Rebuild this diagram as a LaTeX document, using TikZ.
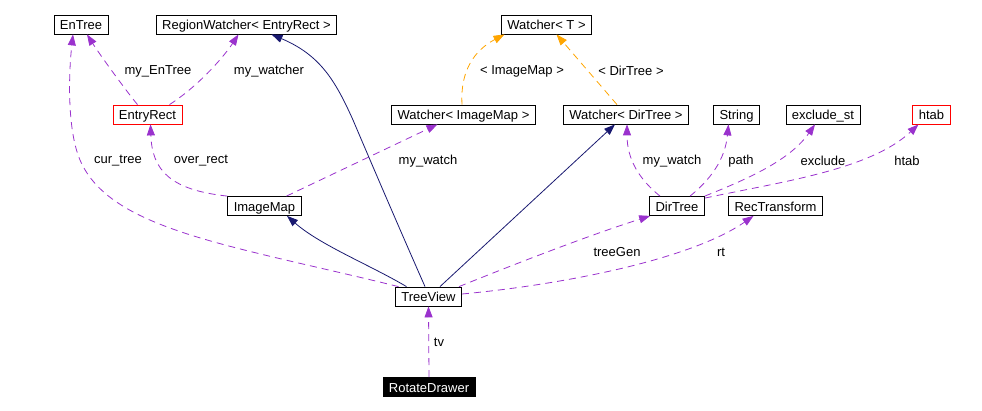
\documentclass[tikz,border=0pt]{standalone}
\usepackage{fontspec}
\setmainfont{Liberation Sans}
\usetikzlibrary{arrows.meta}
\definecolor{usecol}{HTML}{9A32CD}
\definecolor{inhcol}{HTML}{191970}
\definecolor{tplcol}{HTML}{FFA500}

\begin{document}
\begin{tikzpicture}[x=1pt,y=-1pt,font=\fontsize{13}{15}\selectfont,
	cls/.style={draw,line width=0.8pt,minimum height=19pt,inner xsep=6pt,inner ysep=0pt,
		text height=11.5pt,text depth=0.5pt},
	redcls/.style={cls,draw=red},
	maincls/.style={cls,fill=black,text=white},
	lbl/.style={inner sep=0pt},
	usage/.style={draw=usecol,line width=0.8pt,dash pattern=on 7pt off 5pt,
		-{Triangle[length=11pt,width=8pt]},fill=none},
	inherit/.style={draw=inhcol,line width=0.8pt,-{Triangle[length=11pt,width=8pt]}},
	tmpl/.style={draw=tplcol,line width=0.8pt,dash pattern=on 7pt off 5pt,
		-{Triangle[length=11pt,width=8pt]}}]
	\path[use as bounding box] (0,0) rectangle (982,411);
	% classes
	\node[cls] (entree) at (81,24.5) {EnTree};
	\node[cls] (regionwatcher) at (246.5,24.5) {RegionWatcher< EntryRect >};
	\node[cls] (watchert) at (546.5,24.5) {Watcher< T >};
	\node[redcls] (entryrect) at (147.5,114.5) {EntryRect};
	\node[cls] (watcherimg) at (463.5,114.5) {Watcher< ImageMap >};
	\node[cls] (watcherdir) at (626,114.5) {Watcher< DirTree >};
	\node[cls] (string) at (736.5,114.5) {String};
	\node[cls] (excludest) at (823,114.5) {exclude\_st};
	\node[redcls] (htab) at (931.5,114.5) {htab};
	\node[cls] (imagemap) at (264.5,206) {ImageMap};
	\node[cls] (dirtree) at (677,206) {DirTree};
	\node[cls] (rectransform) at (775.5,206) {RecTransform};
	\node[cls] (treeview) at (428.5,296.5) {TreeView};
	\node[maincls] (rotatedrawer) at (429,387) {RotateDrawer};
	% usage relations
	\draw[usage] ([xshift=-10pt]entryrect.north) .. controls (127,92) and (100,55) .. ([xshift=6pt]entree.south);
	\draw[usage] ([xshift=22pt]entryrect.north) .. controls (200,85) and (225,55) .. ([xshift=-8pt]regionwatcher.south);
	\draw[usage] ([xshift=-30pt]treeview.north) .. controls (230,245) and (110,230) .. (80,160)
		.. controls (68,132) and (68,80) .. ([xshift=-8pt]entree.south);
	\draw[usage] (imagemap.north west) .. controls (170,190) and (152,170) .. ([xshift=3pt]entryrect.south);
	\draw[usage] ([xshift=22pt]imagemap.north) -- ([xshift=-26pt]watcherimg.south);
	\draw[usage] ([xshift=-17pt]dirtree.north) .. controls (640,180) and (627,160) .. ([xshift=1pt]watcherdir.south);
	\draw[usage] ([xshift=13pt]dirtree.north) .. controls (710,180) and (725,160) .. ([xshift=-8pt]string.south);
	\draw[usage] (dirtree.north east) .. controls (750,178) and (790,160) .. ([xshift=-8pt]excludest.south);
	\draw[usage] ([yshift=-2pt]dirtree.north east) .. controls (780,182) and (870,170) .. ([xshift=-13pt]htab.south);
	\draw[usage] ([xshift=-3pt]treeview.north east) .. controls (520,262) and (590,235) .. ([xshift=1pt]dirtree.south west);
	\draw[usage] ([yshift=2.5pt]treeview.east) .. controls (560,285) and (690,260) .. ([xshift=-22pt]rectransform.south);
	\draw[usage] (rotatedrawer.north) -- (treeview.south);
	% inheritance
	\draw[inherit] ([xshift=-22pt]treeview.north) .. controls (370,265) and (320,245) .. ([xshift=22.5pt]imagemap.south);
	\draw[inherit] ([xshift=-3.5pt]treeview.north) .. controls (400,230) and (370,160) .. (353,120)
		.. controls (335,80) and (320,55) .. ([xshift=25pt]regionwatcher.south);
	\draw[inherit] ([xshift=11.5pt]treeview.north) -- ([xshift=-11pt]watcherdir.south);
	% template instances
	\draw[tmpl] ([xshift=-1.5pt]watcherimg.north) .. controls (460,70) and (475,50) .. ([xshift=-42pt]watchert.south);
	\draw[tmpl] ([xshift=-9pt]watcherdir.north) -- ([xshift=10pt]watchert.south);
	% labels
	\node[lbl] (lmyentree) at (158,71) {my\_EnTree};
	\node[lbl] (lmywatcher) at (269,71) {my\_watcher};
	\node[lbl] (limagemap) at (522,71) {< ImageMap >};
	\node[lbl] (ldirtree) at (631,71) {< DirTree >};
	\node[lbl] (lcurtree) at (118,161) {cur\_tree};
	\node[lbl] (loverrect) at (201,161) {over\_rect};
	\node[lbl] (lmywatcha) at (428,161) {my\_watch};
	\node[lbl] (lmywatchb) at (672,161) {my\_watch};
	\node[lbl] (lpath) at (741,161) {path};
	\node[lbl] (lexclude) at (823,161) {exclude};
	\node[lbl] (lhtab) at (907,161) {htab};
	\node[lbl] (ltreegen) at (617,252) {treeGen};
	\node[lbl] (lrt) at (721,252) {rt};
	\node[lbl] (ltv) at (439,342) {tv};
\end{tikzpicture}
\end{document}
